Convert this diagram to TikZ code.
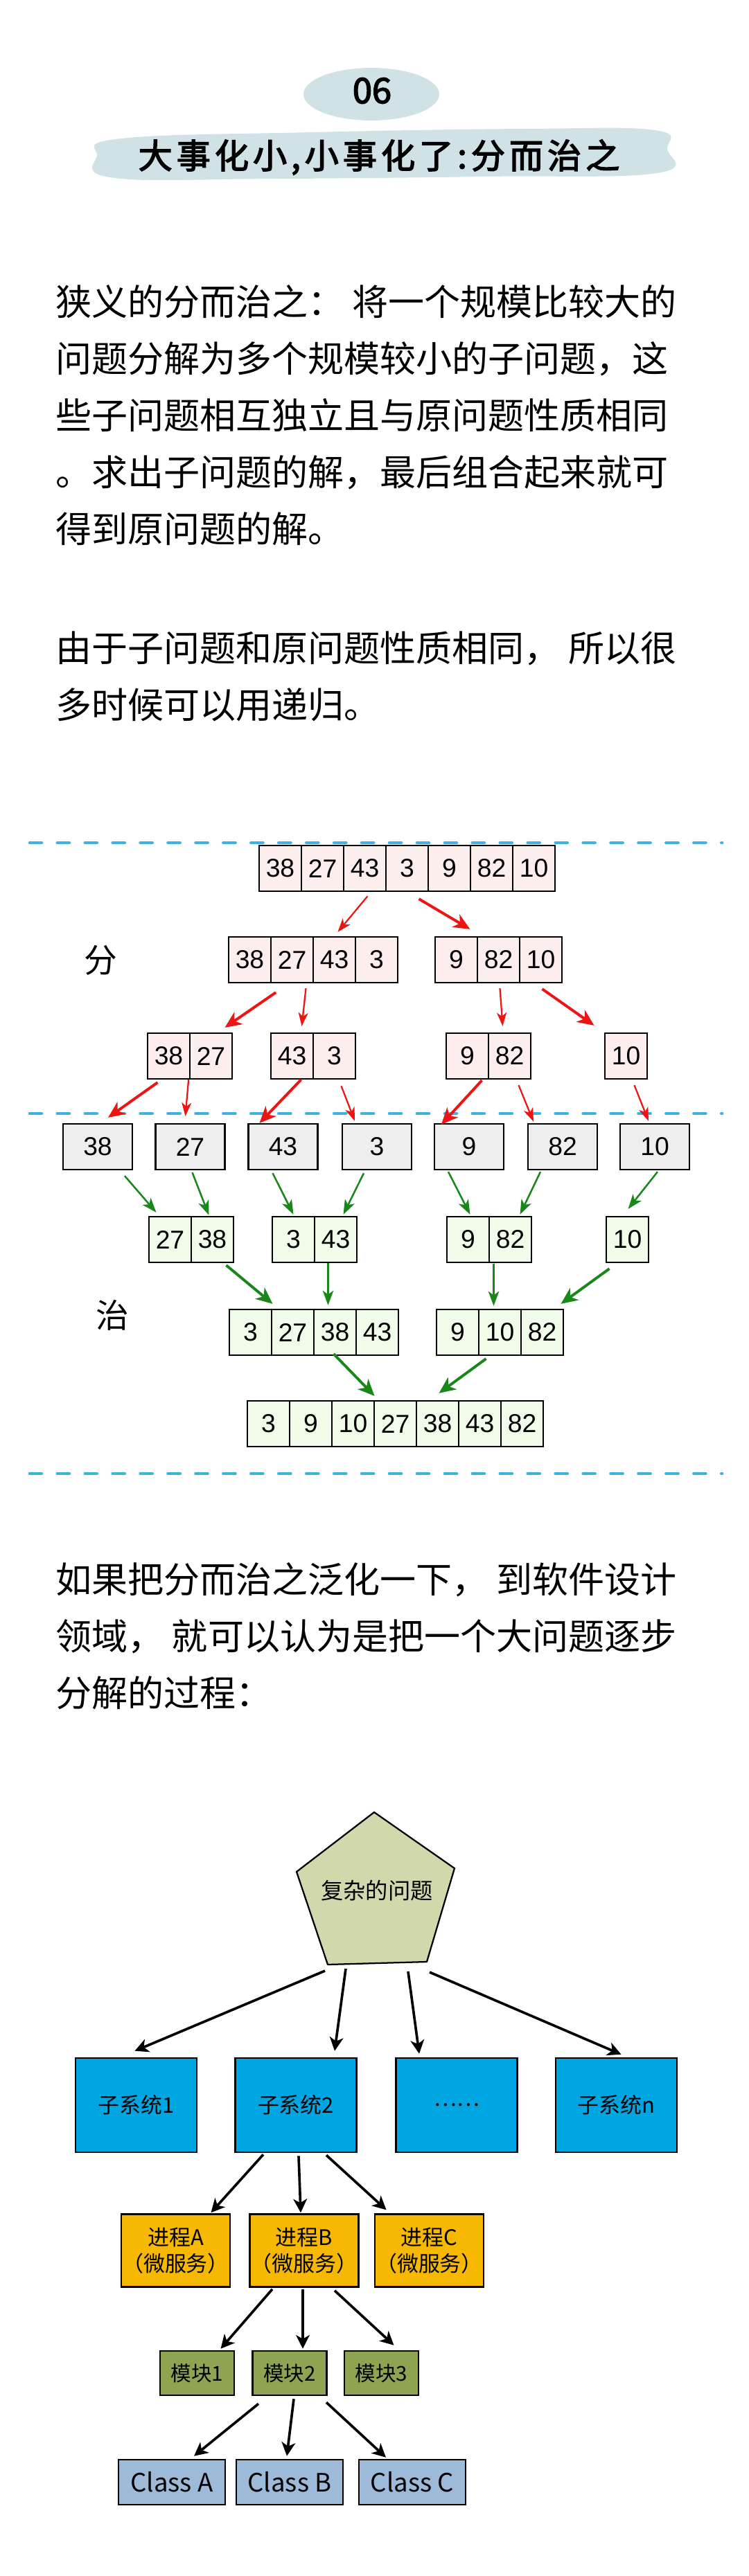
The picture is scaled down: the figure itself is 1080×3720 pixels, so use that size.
\documentclass[tikz,border=0pt]{standalone}
\usepackage{fontspec}
\newfontfamily\cjk{Noto Sans CJK SC}
\newfontfamily\cjkheavy[FakeBold=3]{Noto Sans CJK SC}
\newfontfamily\numfont{Liberation Sans}
\usetikzlibrary{arrows.meta}
\definecolor{titlebg}{RGB}{208,226,230}
\definecolor{sepblue}{RGB}{64,178,224}
\definecolor{splitpink}{RGB}{253,238,238}
\definecolor{singlegray}{RGB}{238,238,238}
\definecolor{mergegreen}{RGB}{240,251,234}
\definecolor{arrred}{RGB}{238,20,20}
\definecolor{arrgreen}{RGB}{26,135,26}
\definecolor{probfill}{RGB}{208,216,172}
\definecolor{sysblue}{RGB}{0,166,226}
\definecolor{procorange}{RGB}{246,184,0}
\definecolor{modgreen}{RGB}{143,164,80}
\definecolor{classblue}{RGB}{157,187,217}
\tikzset{
	cell/.style={draw, line width=1.6pt, minimum width=1.525cm, minimum height=1.65cm, inner sep=0pt, font=\numfont\fontsize{26.5}{26.5}\selectfont},
	splitcell/.style={cell, fill=splitpink},
	mergecell/.style={cell, fill=mergegreen},
	single/.style={cell, fill=singlegray, minimum width=2.5cm},
	sepline/.style={sepblue, line width=3.5pt, line cap=round, dash pattern=on 12pt off 16.4pt},
	para/.style={align=left, inner sep=0pt, font=\cjk\fontsize{37}{58.3}\selectfont},
	side/.style={inner sep=0pt, font=\cjk\fontsize{34}{34}\selectfont},
	redthin/.style={draw=arrred, line width=1.6pt, -{Stealth[length=14pt, width=10pt, inset=4pt]}},
	redthick/.style={draw=arrred, line width=2.8pt, -{Stealth[length=17pt, width=15pt, inset=5pt]}},
	greenthin/.style={draw=arrgreen, line width=1.8pt, -{Stealth[length=15pt, width=11pt, inset=4pt]}},
	greenthick/.style={draw=arrgreen, line width=2.8pt, -{Stealth[length=17pt, width=15pt, inset=5pt]}},
	blackarr/.style={draw=black, line width=2.6pt, -{Stealth[length=14pt, width=14pt, inset=4pt]}},
	treebox/.style={draw, line width=1.8pt, inner sep=0pt, font=\cjk\fontsize{22}{27}\selectfont},
	sysbox/.style={treebox, fill=sysblue, minimum width=4.375cm, minimum height=3.4cm},
	procbox/.style={treebox, fill=procorange, minimum width=3.925cm, minimum height=2.625cm, align=center, font=\cjk\fontsize{22}{27}\selectfont},
	modbox/.style={treebox, fill=modgreen, minimum width=2.675cm, minimum height=1.6cm, font=\cjk\fontsize{21}{21}\selectfont},
	classbox/.style={treebox, fill=classblue, minimum width=3.85cm, minimum height=1.625cm, font=\cjk\fontsize{26}{26}\selectfont}
}
\newcommand{\cells}[5]{%
	\foreach \v [count=\i] in {#5}
		\node[#4] (#1\i) at ({#2+61*\i-30.5},#3) {\v};
}
\begin{document}
\begin{tikzpicture}[x=0.025cm,y=-0.025cm]
	\useasboundingbox (0,0) rectangle (1080,3720);
	\fill[titlebg] (536,136) ellipse [x radius=98, y radius=38];
	\node[inner sep=0pt] (num) at (537,131) {\cjkheavy\fontsize{36}{36}\selectfont 06};
	\fill[titlebg] plot[smooth cycle, tension=0.7] coordinates {(140,225) (175,200) (450,191) (760,186) (945,188) (963,215) (948,250) (700,255) (400,258) (165,257)};
	\node[inner sep=0pt] (title) at (547,227) {\cjkheavy\fontsize{35}{35}\selectfont\addfontfeature{LetterSpace=12}大事化小,小事化了:分而治之};

	\node[para, anchor=base west] (intro) at (80,783) {狭义的分而治之： 将一个规模比较大的\\问题分解为多个规模较小的子问题，这\\些子问题相互独立且与原问题性质相同\\。求出子问题的解，最后组合起来就可\\得到原问题的解。};
	\node[para, anchor=base west] (recur) at (80,1037) {由于子问题和原问题性质相同， 所以很\\多时候可以用递归。};

	\foreach \yy in {1217,1608,2128}
		\draw[sepline] (43,\yy) -- (1042,\yy);
	\node[side] (fen) at (145,1387) {分};
	\node[side] (zhi) at (162,1899) {治};

	\cells{t}{374}{1254}{splitcell}{38,27,43,3,9,82,10}
	\cells{l}{330}{1386}{splitcell}{38,27,43,3}
	\cells{r}{628}{1386}{splitcell}{9,82,10}
	\cells{la}{213}{1525}{splitcell}{38,27}
	\cells{lb}{391}{1525}{splitcell}{43,3}
	\cells{ra}{644}{1525}{splitcell}{9,82}
	\cells{rb}{873}{1525}{splitcell}{10}
	\foreach \v/\xx [count=\i] in {38/141,27/274.5,43/408.5,3/544,9/677,82/812,10/945}
		\node[single] (s\i) at (\xx,1656) {\v};
	\cells{ma}{215}{1790}{mergecell}{27,38}
	\cells{mb}{393}{1790}{mergecell}{3,43}
	\cells{mc}{645}{1790}{mergecell}{9,82}
	\cells{md}{875}{1790}{mergecell}{10}
	\cells{fa}{331}{1924}{mergecell}{3,27,38,43}
	\cells{fb}{630}{1924}{mergecell}{9,10,82}
	\cells{z}{357}{2056}{mergecell}{3,9,10,27,38,43,82}

	\draw[redthin] ([shift={(4,6)}]t3.south) -- ([shift={(5,-6)}]l3.north);
	\draw[redthick] ([shift={(17,10)}]t4.south) -- ([shift={(20,-10)}]r1.north);
	\draw[redthick] ([shift={(6,13)}]l1.south east) -- ([shift={(20,-7)}]la2.north);
	\draw[redthin] ([shift={(20,7)}]l2.south) -- ([shift={(14,-9)}]lb1.north);
	\draw[redthin] ([shift={(2,7)}]r2.south) -- ([shift={(-10,-9)}]ra2.north);
	\draw[redthick] ([shift={(2,8)}]r3.south) -- ([shift={(-46,-10)}]rb1.north);
	\draw[redthick] ([shift={(-16,4)}]la1.south) -- ([shift={(15,-8)}]s1.north);
	\draw[redthin] ([shift={(-3,0)}]la1.south east) -- ([shift={(-7,-10)}]s2.north);
	\draw[redthick] ([shift={(13,0)}]lb1.south) -- ([shift={(-34,0)}]s3.north);
	\draw[redthin] ([shift={(10,9)}]lb2.south) -- ([shift={(-32,-3)}]s4.north);
	\draw[redthick] ([shift={(21,1)}]ra1.south) -- ([shift={(-40,2)}]s5.north);
	\draw[redthin] ([shift={(13,8)}]ra2.south) -- ([shift={(-42,-2)}]s6.north);
	\draw[redthin] ([shift={(12,8)}]rb1.south) -- ([shift={(-9,-3)}]s7.north);

	\draw[greenthin] ([shift={(39,8)}]s1.south) -- ([shift={(-20,-5)}]ma1.north);
	\draw[greenthin] ([shift={(3,3)}]s2.south) -- ([shift={(-5,-1)}]ma2.north);
	\draw[greenthin] ([shift={(-15,4)}]s3.south) -- ([shift={(0,-2)}]mb1.north);
	\draw[greenthin] ([shift={(-19,4)}]s4.south) -- ([shift={(11,-2)}]mb2.north);
	\draw[greenthin] ([shift={(-30,2)}]s5.south) -- ([shift={(3,-2)}]mc1.north);
	\draw[greenthin] ([shift={(-32,2)}]s6.south) -- ([shift={(14,-2)}]mc2.north);
	\draw[greenthin] ([shift={(4,2)}]s7.south) -- ([shift={(1,-10)}]md1.north);
	\draw[greenthick] ([shift={(20,3)}]ma2.south) -- ([shift={(-29,-7)}]fa2.north);
	\draw[greenthin] ([shift={(-11,0)}]mb2.south) -- ([shift={(-10,-5)}]fa3.north);
	\draw[greenthin] ([shift={(-24,1)}]mc2.south) -- ([shift={(-9,-4)}]fb2.north);
	\draw[greenthick] ([shift={(-26,8)}]md1.south) -- ([shift={(27,-7)}]fb3.north);
	\draw[greenthick] ([shift={(-2,-3)}]fa3.south) -- ([shift={(-30,-6)}]z4.north);
	\draw[greenthick] ([shift={(-20,4)}]fb2.south) -- ([shift={(2,-10)}]z5.north);

	\node[para, anchor=base west] (wider) at (80,2464) {如果把分而治之泛化一下， 到软件设计\\领域， 就可以认为是把一个大问题逐步\\分解的过程：};

	\draw[fill=probfill, line width=1.6pt, line join=round] (540,2617) -- (656,2698) -- (616,2833) -- (473,2837) -- (428,2703) -- cycle;
	\node[inner sep=0pt, font=\cjk\fontsize{23}{23}\selectfont] (prob) at (544,2730) {复杂的问题};
	\coordinate (pb) at (545,2835);
	\foreach \lbl/\xx [count=\i] in {子系统1/196.5,子系统2/427,……/659,子系统n/889.5}
		\node[sysbox] (sys\i) at (\xx,3040) {\lbl};
	\draw[blackarr] ([shift={(-76,11)}]pb) -- ([shift={(-2,-9)}]sys1.north);
	\draw[blackarr] ([shift={(-46,8)}]pb) -- ([shift={(56,-9)}]sys2.north);
	\draw[blackarr] ([shift={(44,12)}]pb) -- ([shift={(-54,-5)}]sys3.north);
	\draw[blackarr] ([shift={(75,13)}]pb) -- ([shift={(7,-4)}]sys4.north);

	\foreach \lbl/\xx [count=\i] in {A/253.5,B/439,C/619.5}
		\node[procbox] (proc\i) at (\xx,3250) {进程\lbl\\（微服务）};
	\draw[blackarr] ([shift={(-47,2)}]sys2.south) -- ([shift={(51,-1)}]proc1.north);
	\draw[blackarr] ([shift={(4,4)}]sys2.south) -- ([shift={(-5,-1)}]proc2.north);
	\draw[blackarr] ([shift={(44,3)}]sys2.south) -- ([shift={(-62,-5)}]proc3.north);

	\foreach \xx [count=\i] in {284.5,418,550.5}
		\node[modbox] (mod\i) at (\xx,3427) {模块\i};
	\draw[blackarr] ([shift={(-46,2)}]proc2.south) -- ([shift={(34,-2)}]mod1.north);
	\draw[blackarr] ([shift={(-2,2)}]proc2.south) -- ([shift={(19,-2)}]mod2.north);
	\draw[blackarr] ([shift={(44,4)}]proc2.south) -- ([shift={(18,-7)}]mod3.north);

	\foreach \lbl/\xx [count=\i] in {A/248,B/418,C/595}
		\node[classbox] (cls\i) at (\xx,3584.5) {Class \lbl};
	\draw[blackarr] ([shift={(-45,11)}]mod2.south) -- ([shift={(32,-4)}]cls1.north);
	\draw[blackarr] ([shift={(6,4)}]mod2.south) -- ([shift={(-4,-4)}]cls2.north);
	\draw[blackarr] ([shift={(53,9)}]mod2.south) -- ([shift={(-38,-2)}]cls3.north);
\end{tikzpicture}
\end{document}
